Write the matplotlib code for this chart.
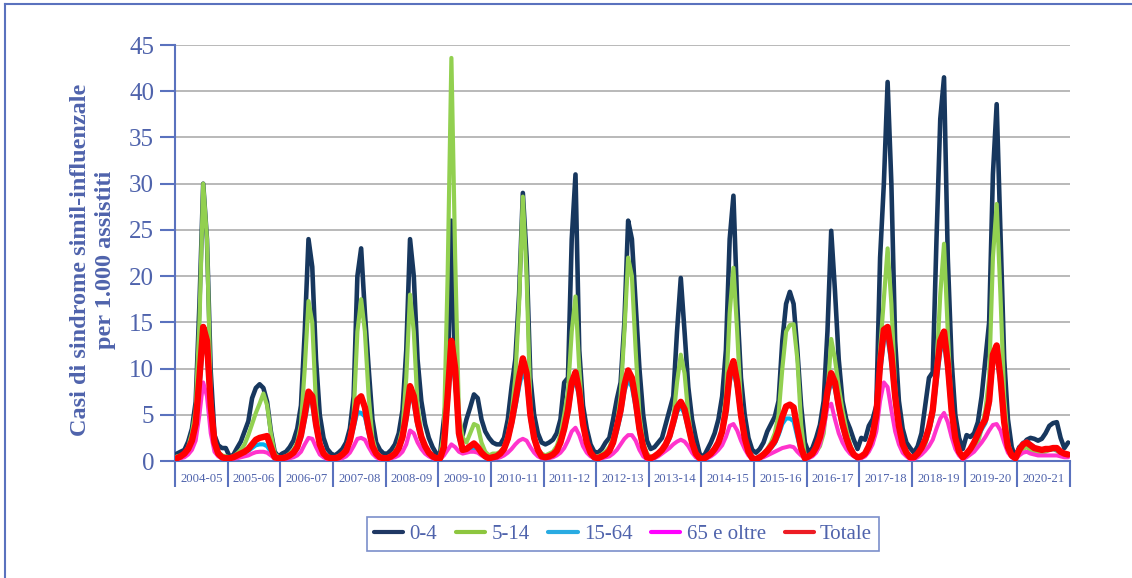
import matplotlib
matplotlib.use("Agg")
import matplotlib.pyplot as plt
from matplotlib.lines import Line2D

seasons = ["2004-05", "2005-06", "2006-07", "2007-08", "2008-09", "2009-10",
           "2010-11", "2011-12", "2012-13", "2013-14", "2014-15", "2015-16",
           "2016-17", "2017-18", "2018-19", "2019-20", "2020-21"]

series_names = ["0-4", "5-14", "15-64", "65 e oltre", "Totale"]

# fortnightly readings per season (14 per season)
age_0_4 = [
    [0.8, 1.0, 1.2, 2.1, 3.5, 6.4, 17, 30, 24, 9.7, 2.8, 1.7, 1.4, 1.4],
    [0.5, 0.65, 1.4, 2.1, 3.2, 4.3, 6.8, 7.9, 8.3, 7.9, 6.4, 3.2, 1.0, 0.5],
    [0.8, 1.0, 1.5, 2.2, 3.5, 6, 14, 24, 21, 11, 5, 2.5, 1.3, 0.8],
    [0.6, 0.9, 1.3, 2, 3.5, 7, 20, 23, 16, 10, 4.5, 2, 1.2, 0.8],
    [0.8, 1.2, 1.8, 3.0, 5.5, 12, 24, 20, 11, 6.5, 4, 2.5, 1.5, 0.8],
    [0.8, 4.5, 8, 26, 9, 3.5, 2.8, 4.5, 5.8, 7.2, 6.8, 4.5, 3.2, 2.5],
    [2.0, 1.8, 1.8, 2.5, 4.5, 8, 11, 18, 29, 22, 9, 5, 3, 2.0],
    [1.8, 2.0, 2.3, 3.0, 4.5, 8.5, 9, 24, 31, 12, 6, 3.5, 1.8, 1.0],
    [0.9, 1.3, 2.0, 2.5, 4.5, 6.7, 8.5, 15, 26, 24, 17, 10, 5, 2.2],
    [1.3, 1.5, 2.0, 2.5, 4, 5.5, 7, 14, 19.8, 14, 8, 4.5, 2.5, 0.8],
    [0.4, 1.2, 2.0, 3.0, 4.5, 7, 12, 24, 28.7, 17, 9, 5, 2.5, 1.2],
    [0.9, 1.3, 2.0, 3.2, 4.0, 4.8, 6.5, 13, 17, 18.3, 17, 12, 6, 2.0],
    [0.9, 1.4, 2.5, 3.9, 6.5, 14, 24.9, 18.4, 11, 6.5, 4.5, 3.5, 2.3, 1.3],
    [2.5, 2.3, 3.8, 4.5, 6.0, 22, 30, 41, 30, 13, 6.5, 3.5, 2.0, 1.4],
    [0.9, 1.6, 3.0, 6.0, 9.0, 9.6, 24, 37, 41.5, 22, 11, 5, 2.5, 1.3],
    [2.8, 2.6, 3.0, 4.2, 7.0, 11, 15, 31, 38.6, 25, 11, 4.5, 1.5, 0.4],
    [1.5, 1.8, 2.3, 2.5, 2.4, 2.2, 2.4, 3.0, 3.8, 4.1, 4.2, 2.5, 1.4, 2.0],
]

age_5_14 = [
    [0.5, 0.6, 0.8, 1.5, 3.0, 5.5, 15, 30, 24, 7, 2, 1.0, 0.6, 0.5],
    [0.4, 0.5, 0.8, 1.2, 1.8, 2.8, 4.0, 5.2, 6.2, 7.3, 6.0, 3.0, 0.8, 0.4],
    [0.4, 0.5, 0.8, 1.2, 2, 4, 10, 17.3, 15, 6, 2, 0.8, 0.5, 0.4],
    [0.4, 0.5, 0.8, 1.3, 2.5, 5, 14, 17.5, 14, 7, 2.5, 1, 0.5, 0.4],
    [0.4, 0.6, 1.0, 1.8, 3.5, 9, 18, 14, 6, 3, 1.5, 0.8, 0.5, 0.4],
    [0.5, 3, 20, 43.6, 22, 5, 2.5, 2.0, 3.0, 4.0, 3.8, 2.0, 1.0, 0.6],
    [0.8, 0.8, 1.0, 1.5, 2.8, 5, 9, 17, 28.6, 20, 6, 2.5, 1.2, 0.8],
    [0.6, 0.8, 1.0, 1.6, 2.8, 5, 7.5, 14, 17.8, 10, 4, 1.8, 0.8, 0.5],
    [0.5, 0.7, 1.0, 1.5, 2.5, 4, 7, 14, 22, 20, 12, 5, 2, 0.8],
    [0.4, 0.5, 0.8, 1.2, 1.8, 2.8, 4.5, 8.5, 11.5, 9.5, 5, 2.2, 0.9, 0.4],
    [0.3, 0.5, 0.8, 1.3, 2.0, 3.5, 7, 16, 20.9, 14, 6, 2.5, 1.0, 0.4],
    [0.3, 0.5, 0.8, 1.3, 2.0, 3.0, 5, 10, 14, 14.7, 14.8, 11, 4, 0.5],
    [0.4, 0.6, 1.0, 1.6, 3, 7, 13.2, 11, 8, 5.5, 3.5, 1.8, 0.8, 0.4],
    [0.5, 0.7, 1.2, 2.0, 3.5, 12, 17.5, 23, 17, 8, 3.5, 1.5, 0.8, 0.4],
    [0.4, 0.6, 1.0, 1.8, 3.2, 5.0, 10, 18, 23.5, 14, 5.5, 2.2, 1.0, 0.5],
    [0.6, 0.8, 1.2, 2.0, 3.5, 5.5, 9, 22, 27.8, 18, 7, 2, 0.5, 0.3],
    [1.0, 1.3, 1.5, 1.2, 1.0, 0.9, 0.9, 1.0, 1.2, 1.3, 1.1, 0.8, 0.6, 0.5],
]

age_15_64 = [
    [0.3, 0.4, 0.7, 1.1, 1.9, 3.5, 8, 13, 11.5, 5.2, 1.7, 0.7, 0.4, 0.3],
    [0.3, 0.4, 0.5, 0.7, 0.9, 1.1, 1.4, 1.7, 1.8, 1.8, 1.6, 1.0, 0.4, 0.3],
    [0.3, 0.4, 0.5, 0.8, 1.3, 2.4, 4.4, 6.5, 6.2, 3.5, 1.5, 0.7, 0.4, 0.3],
    [0.3, 0.4, 0.6, 1.0, 2.0, 3.6, 5.3, 5.2, 4.8, 3.0, 1.4, 0.7, 0.4, 0.3],
    [0.3, 0.4, 0.7, 1.2, 2.3, 4.4, 7.2, 6.2, 3.8, 2.3, 1.4, 0.8, 0.4, 0.3],
    [0.3, 1.3, 6, 11, 8.5, 2.5, 1.0, 1.1, 1.3, 1.4, 1.2, 0.8, 0.4, 0.3],
    [0.4, 0.5, 0.7, 1.2, 2.2, 3.8, 5.8, 8.0, 9.8, 8.5, 4.5, 2.2, 1.1, 0.5],
    [0.4, 0.5, 0.6, 1.0, 1.8, 3.2, 5.0, 7.8, 8.8, 6.8, 3.6, 1.8, 0.8, 0.4],
    [0.3, 0.4, 0.6, 1.0, 1.8, 3.2, 4.9, 7.5, 8.8, 8.0, 5.8, 3.0, 1.3, 0.4],
    [0.3, 0.4, 0.7, 1.1, 1.6, 2.4, 3.8, 5.3, 5.9, 5.1, 3.4, 1.8, 0.7, 0.3],
    [0.2, 0.4, 0.7, 1.1, 1.8, 2.9, 5.0, 8.6, 9.9, 7.8, 4.6, 2.3, 0.9, 0.3],
    [0.2, 0.4, 0.6, 1.0, 1.4, 1.9, 2.8, 4.0, 4.6, 4.6, 4.3, 2.6, 1.0, 0.3],
    [0.4, 0.7, 1.3, 2.3, 4.0, 6.8, 8.6, 7.8, 5.5, 3.6, 2.2, 1.2, 0.6, 0.3],
    [0.4, 0.7, 1.4, 2.5, 4.5, 9.5, 13, 13.3, 10.5, 6.3, 3.4, 1.6, 0.8, 0.3],
    [0.3, 0.7, 1.2, 2.0, 3.2, 4.9, 8.5, 11.8, 12.8, 9.6, 5.0, 2.3, 0.9, 0.3],
    [0.7, 1.1, 1.8, 2.6, 3.4, 4.1, 6.0, 10.5, 11.5, 8.2, 3.8, 1.4, 0.5, 0.3],
    [1.4, 2.0, 2.1, 1.8, 1.5, 1.3, 1.2, 1.2, 1.2, 1.3, 1.2, 0.9, 0.7, 0.6],
]

age_65_plus = [
    [0.2, 0.3, 0.4, 0.7, 1.2, 2.2, 5, 8.5, 7, 3, 1, 0.5, 0.3, 0.2],
    [0.2, 0.25, 0.3, 0.4, 0.5, 0.6, 0.8, 0.95, 1.0, 1.0, 0.9, 0.6, 0.3, 0.2],
    [0.2, 0.25, 0.3, 0.4, 0.6, 1.0, 1.8, 2.5, 2.4, 1.5, 0.7, 0.4, 0.2, 0.2],
    [0.2, 0.25, 0.3, 0.5, 0.9, 1.6, 2.4, 2.5, 2.3, 1.5, 0.8, 0.4, 0.2, 0.2],
    [0.2, 0.3, 0.4, 0.6, 1.0, 1.8, 3.3, 3.0, 2.0, 1.3, 0.8, 0.5, 0.3, 0.2],
    [0.2, 0.6, 1.2, 1.8, 1.5, 1.0, 0.8, 0.9, 1.0, 1.0, 0.9, 0.6, 0.4, 0.2],
    [0.3, 0.3, 0.4, 0.6, 0.9, 1.3, 1.8, 2.2, 2.4, 2.2, 1.5, 0.9, 0.5, 0.3],
    [0.3, 0.3, 0.4, 0.6, 0.9, 1.4, 2.2, 3.2, 3.6, 2.8, 1.6, 0.9, 0.5, 0.3],
    [0.2, 0.3, 0.4, 0.5, 0.8, 1.2, 1.8, 2.4, 2.8, 2.8, 2.2, 1.2, 0.5, 0.2],
    [0.2, 0.3, 0.5, 0.8, 1.1, 1.4, 1.8, 2.1, 2.3, 2.1, 1.6, 0.9, 0.4, 0.2],
    [0.2, 0.3, 0.5, 0.8, 1.2, 1.7, 2.6, 3.8, 4.0, 3.3, 2.2, 1.3, 0.6, 0.2],
    [0.2, 0.3, 0.4, 0.6, 0.8, 1.0, 1.2, 1.4, 1.5, 1.6, 1.5, 1.0, 0.6, 0.3],
    [0.3, 0.5, 0.9, 1.8, 3.5, 5.8, 6.2, 4.5, 3.0, 2.0, 1.3, 0.8, 0.5, 0.3],
    [0.3, 0.5, 1.0, 1.8, 3.2, 6.5, 8.5, 8.0, 5.5, 3.2, 1.8, 0.9, 0.5, 0.2],
    [0.2, 0.4, 0.7, 1.1, 1.6, 2.3, 3.5, 4.6, 5.2, 4.2, 2.6, 1.3, 0.6, 0.2],
    [0.4, 0.7, 1.0, 1.5, 2.0, 2.6, 3.3, 3.9, 4.0, 3.3, 2.0, 0.9, 0.4, 0.2],
    [0.6, 0.9, 1.0, 0.8, 0.7, 0.6, 0.6, 0.6, 0.6, 0.6, 0.6, 0.5, 0.4, 0.4],
]

totale = [
    [0.3, 0.5, 0.8, 1.3, 2.2, 4.0, 9, 14.5, 13, 6, 2, 0.8, 0.4, 0.3],
    [0.3, 0.4, 0.6, 0.8, 1.0, 1.3, 1.8, 2.3, 2.5, 2.6, 2.7, 1.5, 0.4, 0.3],
    [0.3, 0.4, 0.6, 0.9, 1.5, 2.8, 5, 7.5, 7, 4, 1.8, 0.8, 0.4, 0.3],
    [0.3, 0.4, 0.7, 1.1, 2.2, 4.2, 6.6, 7.0, 5.8, 3.5, 1.6, 0.8, 0.4, 0.3],
    [0.3, 0.5, 0.8, 1.4, 2.6, 5, 8.1, 7.0, 4.3, 2.6, 1.6, 0.9, 0.5, 0.3],
    [0.3, 1.5, 7, 13, 10, 3, 1.2, 1.3, 1.6, 1.9, 1.5, 0.9, 0.5, 0.3],
    [0.4, 0.5, 0.8, 1.3, 2.4, 4.2, 6.5, 9, 11.1, 9.5, 5, 2.5, 1.2, 0.5],
    [0.4, 0.5, 0.7, 1.1, 2.0, 3.5, 5.5, 8.5, 9.6, 7.5, 4.0, 2.0, 0.9, 0.4],
    [0.3, 0.5, 0.7, 1.1, 2.0, 3.7, 5.5, 8.2, 9.8, 9.0, 6.5, 3.5, 1.5, 0.4],
    [0.3, 0.5, 0.8, 1.2, 1.8, 2.7, 4.2, 5.8, 6.4, 5.6, 3.8, 2.0, 0.8, 0.3],
    [0.2, 0.5, 0.8, 1.3, 2.0, 3.2, 5.5, 9.5, 10.8, 8.5, 5.0, 2.5, 1.0, 0.3],
    [0.2, 0.4, 0.7, 1.1, 1.6, 2.2, 3.3, 4.8, 5.9, 6.1, 5.8, 3.5, 1.4, 0.3],
    [0.5, 0.8, 1.5, 2.6, 4.5, 7.5, 9.5, 8.5, 6.0, 4.0, 2.5, 1.4, 0.7, 0.4],
    [0.5, 0.8, 1.6, 2.8, 5.0, 10.5, 14.2, 14.5, 11.5, 7.0, 3.8, 1.8, 0.9, 0.4],
    [0.4, 0.8, 1.4, 2.3, 3.6, 5.5, 9.5, 13.0, 14.0, 10.5, 5.5, 2.5, 1.0, 0.4],
    [0.8, 1.3, 2.0, 2.9, 3.8, 4.5, 6.5, 11.5, 12.5, 9.0, 4.2, 1.5, 0.6, 0.3],
    [1.2, 1.8, 2.0, 1.7, 1.4, 1.3, 1.2, 1.3, 1.3, 1.4, 1.4, 1.0, 0.8, 0.7],
]

y_ticks = [0, 5, 10, 15, 20, 25, 30, 35, 40, 45]
y_label = "Casi di sindrome simil-influenzale\nper 1.000 assistiti"

colors = ["#17375E", "#92D050", "#00B0F0", "#FF33CC", "#FF0000"]
legend_colors = ["#1F3864", "#8DC63F", "#29ABE2", "#FF00FF", "#ED1C24"]
widths = [3.3, 3.0, 3.0, 2.9, 4.6]

BLUE_TXT = "#4F63AC"
BLUE_AX = "#5A72BE"
SERIF = ["Liberation Serif", "DejaVu Serif"]

W, H = 1132, 578
fig = plt.figure(figsize=(W / 100, H / 100), dpi=100)
ax = fig.add_axes([175 / W, 1 - 461 / H, (1070 - 175) / W, (461 - 45) / H])

all_series = [age_0_4, age_5_14, age_15_64, age_65_plus, totale]
handles = []
for data, name, c, lc, lw in zip(all_series, series_names, colors, legend_colors, widths):
    xs, ys = [], []
    for s, vals in enumerate(data):
        n = len(vals)
        for i, v in enumerate(vals):
            xs.append(s + (i + 0.5) / n)
            ys.append(v)
    ax.plot(xs, ys, color=c, lw=lw, solid_joinstyle="round", solid_capstyle="round", zorder=3)
    handles.append(Line2D([0], [0], color=lc, lw=3.0, solid_capstyle="round", label=name))

ax.set_xlim(0, len(seasons))
ax.set_ylim(0, 45)
ax.set_yticks(y_ticks)
ax.set_yticklabels([str(t) for t in y_ticks], fontsize=18, color=BLUE_TXT, family=SERIF)
ax.yaxis.grid(True, color="#ADADAD", lw=1.2)
ax.set_axisbelow(True)
for sp in ["top", "right"]:
    ax.spines[sp].set_visible(False)
for sp in ["left", "bottom"]:
    ax.spines[sp].set_color(BLUE_AX)
    ax.spines[sp].set_linewidth(1.5)
ax.tick_params(axis="y", direction="out", length=11, width=1.5, color=BLUE_AX, pad=4)

ax.set_xticks(range(len(seasons) + 1))
ax.set_xticklabels([""] * (len(seasons) + 1))
ax.set_xticks([s + 0.5 for s in range(len(seasons))], minor=True)
ax.set_xticklabels(seasons, minor=True, fontsize=9.2, color=BLUE_TXT, family=SERIF)
ax.tick_params(axis="x", which="major", direction="out", length=19, width=1.5, color=BLUE_AX)
ax.tick_params(axis="x", which="minor", length=0, pad=9)

fig.text(93 / W, 1 - 260 / H, y_label, rotation=90, ha="center", va="center",
         multialignment="center", fontsize=17.5, fontweight="bold", color=BLUE_TXT,
         family=SERIF, linespacing=1.25)

leg = fig.legend(handles=handles, loc="center", bbox_to_anchor=(623 / W, 1 - 534 / H),
                 ncol=5, frameon=True, fancybox=False, edgecolor=BLUE_AX,
                 prop={"family": SERIF, "size": 15}, handlelength=1.4,
                 handletextpad=0.3, columnspacing=0.9, borderpad=0.35)
leg.get_frame().set_linewidth(1.2)
for t in leg.get_texts():
    t.set_color(BLUE_TXT)

fig.add_artist(Line2D([5 / W, 1], [1 - 4 / H, 1 - 4 / H], transform=fig.transFigure,
                      color=BLUE_AX, lw=1.5))
fig.add_artist(Line2D([5 / W, 5 / W], [0, 1 - 4 / H], transform=fig.transFigure,
                      color=BLUE_AX, lw=1.5))

fig.savefig("out.png", dpi=100)
